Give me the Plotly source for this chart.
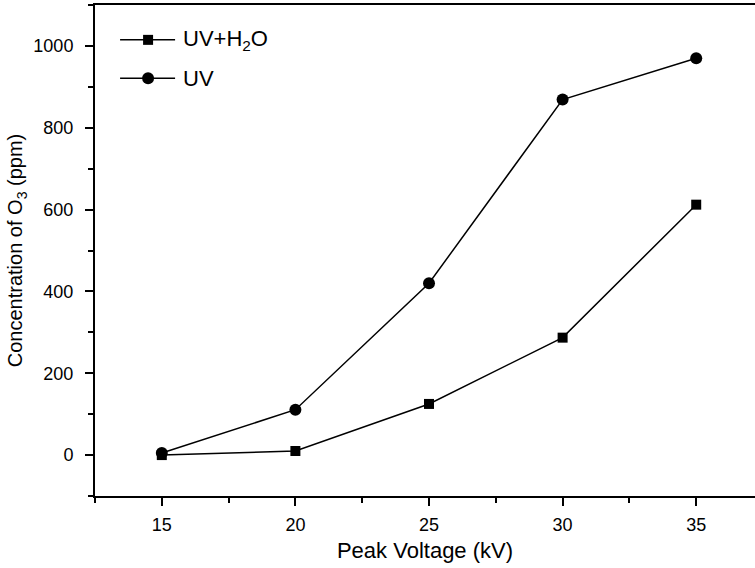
import plotly.graph_objects as go

# Peak voltage (kV) and measured ozone concentration (ppm)
voltage = [15, 20, 25, 30, 35]
o3_uv_h2o = [0, 10, 125, 287, 612]
o3_uv = [5, 111, 420, 869, 970]

series_names = ["UV+H<sub>2</sub>O", "UV"]
series_symbols = ["square", "circle"]

y_ticks = [0, 200, 400, 600, 800, 1000]
x_ticks = [15, 20, 25, 30, 35]

font_family = "Liberation Sans, Arial, sans-serif"

fig = go.Figure()
for name, values, symbol, size in zip(series_names, [o3_uv_h2o, o3_uv], series_symbols, [10, 12]):
    fig.add_trace(go.Scatter(
        x=voltage, y=values, mode="lines+markers", name=name, showlegend=False,
        line=dict(color="black", width=1.5),
        marker=dict(symbol=symbol, size=size, color="black"),
    ))

axis_common = dict(
    showgrid=False, zeroline=False, showline=True, linecolor="black", linewidth=2,
    ticks="outside", ticklen=8, tickwidth=2, tickcolor="black",
    tickfont=dict(size=18, color="black", family=font_family),
)

fig.update_xaxes(
    **axis_common, range=[12.5, 37.2], tickvals=x_ticks, mirror=True,
    ticklabelstandoff=3,
    minor=dict(dtick=2.5, tick0=12.5, ticks="outside", ticklen=5, tickwidth=2, tickcolor="black"),
    title=dict(text="Peak Voltage (kV)", font=dict(size=22, color="black", family=font_family), standoff=9),
)
fig.update_yaxes(
    **axis_common, range=[-100, 1100], tickvals=y_ticks,
    ticklabelstandoff=8,
    minor=dict(dtick=100, tick0=0, ticks="outside", ticklen=5, tickwidth=2, tickcolor="black"),
    title=dict(text="Concentration of O<sub>3</sub> (ppm)", font=dict(size=20, color="black", family=font_family), standoff=5),
)

# Legend drawn inside the plot area: a line sample with its marker and a label per series
legend_x = 0.038
legend_rows = [0.929, 0.851]
shapes = []
annotations = []
for name, symbol, row_y in zip(series_names, series_symbols, legend_rows):
    shapes.append(dict(
        type="line", xref="paper", yref="paper", xsizemode="pixel", xanchor=legend_x,
        x0=0, x1=55, y0=row_y, y1=row_y, line=dict(color="black", width=1.5),
    ))
    half = 5 if symbol == "square" else 6
    shapes.append(dict(
        type="rect" if symbol == "square" else "circle",
        xref="paper", yref="paper", xsizemode="pixel", ysizemode="pixel",
        xanchor=legend_x, yanchor=row_y,
        x0=28 - half, x1=28 + half, y0=-half, y1=half,
        fillcolor="black", line=dict(color="black", width=0),
    ))
    annotations.append(dict(
        text=name, xref="paper", yref="paper", x=legend_x, y=row_y,
        xshift=61, xanchor="left", yanchor="middle", showarrow=False,
        font=dict(size=22, color="black", family=font_family),
    ))

fig.update_layout(
    width=755, height=568,
    margin=dict(l=95, r=0, t=5, b=72),
    plot_bgcolor="white", paper_bgcolor="white",
    shapes=shapes, annotations=annotations,
    showlegend=False,
)

fig.write_html("out.html")
